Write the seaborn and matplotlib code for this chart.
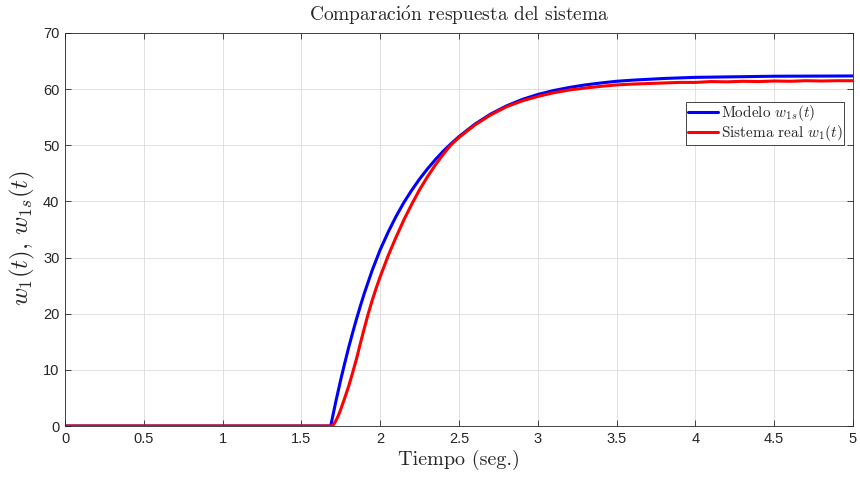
import numpy as np
import pandas as pd
import matplotlib
matplotlib.use("Agg")
import matplotlib.pyplot as plt
import seaborn as sns

# ---- data ----
t_model = [0.0, 1.686, 1.70, 1.72, 1.75, 1.775, 1.8, 1.825, 1.85, 1.875, 1.9, 1.95,
           2.0, 2.05, 2.1, 2.15, 2.2, 2.25, 2.3, 2.35, 2.4, 2.45, 2.5, 2.6, 2.7,
           2.8, 2.9, 3.0, 3.1, 3.2, 3.3, 3.4, 3.5, 3.6, 3.8, 4.0, 4.25, 4.5, 5.0]
w_model = [0.0, 0.0, 1.9, 4.55, 8.3, 11.2, 14.0, 16.6, 19.1, 21.45, 23.7, 27.8,
           31.4, 34.5, 37.3, 39.8, 42.0, 44.0, 45.8, 47.45, 48.95, 50.3, 51.55, 53.75, 55.55,
           57.0, 58.15, 59.05, 59.75, 60.3, 60.75, 61.1, 61.4, 61.6, 61.9, 62.1, 62.2, 62.3, 62.35]

t_real = [0.0, 1.692, 1.70, 1.71, 1.72, 1.735, 1.75, 1.775, 1.8, 1.82, 1.836, 1.85,
          1.875, 1.9, 1.925, 1.95, 1.975, 2.0, 2.05, 2.1, 2.15, 2.2, 2.25, 2.3, 2.35, 2.4,
          2.45, 2.5, 2.6, 2.7, 2.8, 2.9, 3.0, 3.1, 3.2, 3.3, 3.4, 3.5, 3.6, 3.7,
          3.8, 3.9, 4.0, 4.1, 4.2, 4.3, 4.4, 4.5, 4.6, 4.7, 4.8, 4.9, 5.0]
w_real = [0.0, 0.0, 0.15, 0.5, 1.0, 1.9, 3.0, 5.0, 7.1, 9.0, 10.6, 12.0,
          14.8, 17.5, 20.1, 22.45, 24.6, 26.6, 30.3, 33.6, 36.7, 39.5, 42.1, 44.4, 46.5, 48.4,
          50.1, 51.4, 53.6, 55.4, 56.85, 57.9, 58.7, 59.35, 59.85, 60.2, 60.5, 60.75, 60.9, 61.0,
          61.1, 61.2, 61.2, 61.35, 61.3, 61.4, 61.35, 61.45, 61.4, 61.5, 61.45, 61.5, 61.5]

x_ticks = [0, 0.5, 1, 1.5, 2, 2.5, 3, 3.5, 4, 4.5, 5]
x_tick_labels = ["0", "0.5", "1", "1.5", "2", "2.5", "3", "3.5", "4", "4.5", "5"]
y_ticks = [0, 10, 20, 30, 40, 50, 60, 70]
y_tick_labels = ["0", "10", "20", "30", "40", "50", "60", "70"]

labels = [r"Modelo $w_{1s}(t)$", r"Sistema real $w_1(t)$"]
colors = ["#0000ff", "#ff0000"]

df = pd.concat([
    pd.DataFrame({"t": t_model, "w": w_model, "serie": labels[0]}),
    pd.DataFrame({"t": t_real, "w": w_real, "serie": labels[1]}),
], ignore_index=True)

sns.set_theme(style="whitegrid")
plt.rcParams["mathtext.fontset"] = "cm"
plt.rcParams["font.family"] = ["Liberation Sans", "DejaVu Sans"]
serif = ["cmr10", "DejaVu Serif"]

fig = plt.figure(figsize=(8.6, 4.78), dpi=100)
ax = fig.add_axes([65 / 860, 52 / 478, 788 / 860, 393 / 478])

sns.lineplot(data=df, x="t", y="w", hue="serie", palette=colors,
             linewidth=2.2, ax=ax, legend=True, estimator=None, sort=False)

ax.set_xlim(0, 5)
ax.set_ylim(0, 70)
ax.set_xticks(x_ticks)
ax.set_xticklabels(x_tick_labels)
ax.set_yticks(y_ticks)
ax.set_yticklabels(y_tick_labels)
ax.tick_params(axis="both", direction="in", length=4, width=0.6, colors="#262626",
               labelsize=10.5, top=True, right=True, bottom=True, left=True, pad=4)
ax.grid(True, color="#dcdcdc", linewidth=0.6)
ax.set_facecolor("white")
for s in ax.spines.values():
    s.set_visible(True)
    s.set_color("#262626")
    s.set_linewidth(0.6)

ax.set_title(r"Comparaci$\mathrm{\acute{o}}$n respuesta del sistema", family=serif,
             fontsize=14, color="#262626", pad=8.5)
ax.set_xlabel("Tiempo (seg.)", family=serif, fontsize=14.5, color="#262626", labelpad=3)
ax.set_ylabel(r"$w_1(t),\, w_{1s}(t)$", fontsize=18, color="#262626")
ax.yaxis.set_label_coords(-0.035, 0.478)

leg = ax.legend(loc="upper right", bbox_to_anchor=(0.9886, 0.825), frameon=True,
                fancybox=False, edgecolor="#262626", framealpha=1,
                prop={"family": serif, "size": 11}, handlelength=2.0,
                borderpad=0.1, labelspacing=0.0, handletextpad=0.15, borderaxespad=0)
leg.get_frame().set_linewidth(0.6)
for line in leg.get_lines():
    line.set_linewidth(2.2)

fig.savefig("out.png", dpi=100)
